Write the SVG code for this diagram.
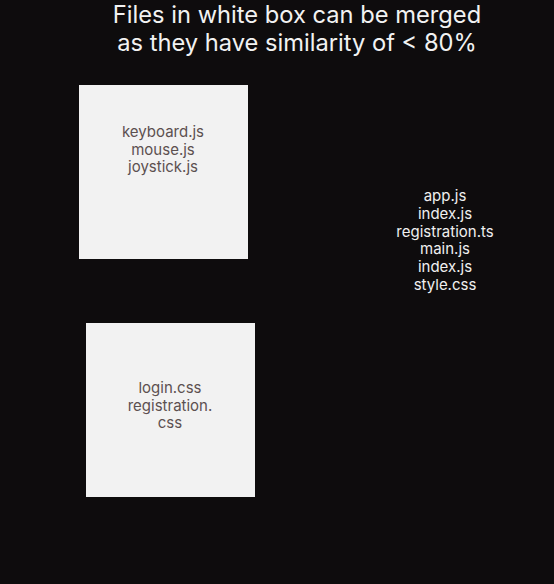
<svg xmlns="http://www.w3.org/2000/svg" width="554" height="584" viewBox="0 0 554 584">
<style>
.t{font-family:Inter,"Noto Sans",sans-serif;text-anchor:middle}
.title{font-size:23.7px;fill:#f2f2f2}
.box{fill:#f2f2f2}
.in{font-size:15px;fill:#5c5050}
.out{font-size:15px;fill:#f0f0f0}
</style>
<rect width="554" height="584" fill="#0e0c0d"/>
<g id="title">
<text class="t title" x="297" y="23">Files in white box can be merged</text>
<text class="t title" x="297" y="51">as they have similarity of &lt; 80%</text>
</g>
<g id="box1">
<rect class="box" x="79" y="85" width="169" height="174"/>
<text class="t in" x="163" y="137">keyboard.js</text>
<text class="t in" x="163" y="155">mouse.js</text>
<text class="t in" x="163" y="172">joystick.js</text>
</g>
<g id="box2">
<rect class="box" x="86" y="323" width="169" height="174"/>
<text class="t in" x="170" y="393">login.css</text>
<text class="t in" x="170" y="411">registration.</text>
<text class="t in" x="170" y="428">css</text>
</g>
<g id="others">
<text class="t out" x="445" y="201">app.js</text>
<text class="t out" x="445" y="219">index.js</text>
<text class="t out" x="445" y="237">registration.ts</text>
<text class="t out" x="445" y="254">main.js</text>
<text class="t out" x="445" y="272">index.js</text>
<text class="t out" x="445" y="290">style.css</text>
</g>
<g id="connectors"/>
</svg>
